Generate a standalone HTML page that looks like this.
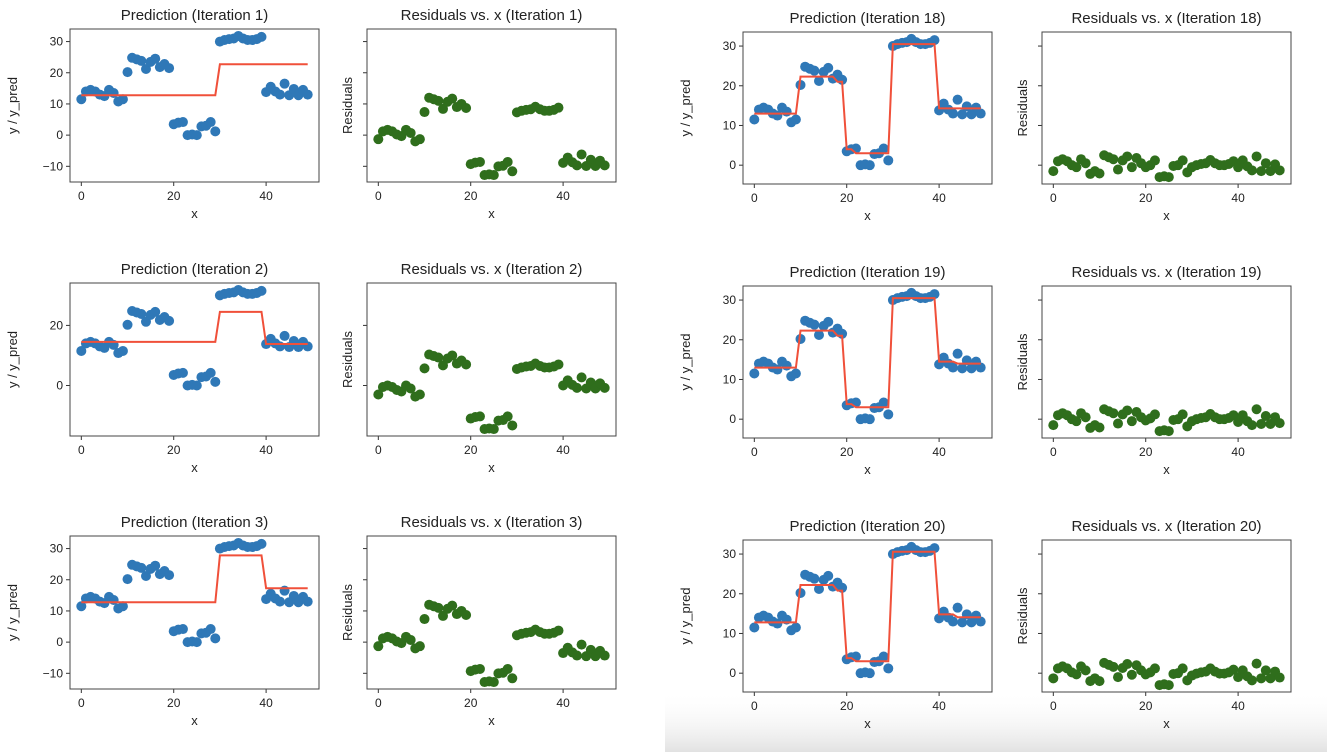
<!DOCTYPE html>
<html><head><meta charset="utf-8">
<style>
html,body{margin:0;padding:0;background:#fff;}
#wrap{position:relative;width:1327px;height:752px;overflow:hidden;background:#fff;}
svg text{font-family:"Liberation Sans","DejaVu Sans",sans-serif;fill:#222;}
</style></head>
<body>
<div id="wrap">
<svg id="fig" width="1327" height="752" xmlns="http://www.w3.org/2000/svg">
<defs><linearGradient id="fade" x1="0" y1="0" x2="0" y2="1"><stop offset="0" stop-color="#fff" stop-opacity="0"/><stop offset="1" stop-color="#e2e2e2"/></linearGradient></defs>
<rect x="665" y="690" width="662" height="62" fill="url(#fade)"/>
</svg>
</div>
<script>
// observed data y for x = 0..49
const yValues = [11.5,14,14.5,14,13,12.5,14.5,13.5,10.8,11.5,
  20.2,24.8,24.3,23.8,21.2,23.5,24.5,21.8,22.8,21.5,
  3.5,4,4.2,0,0.2,0,2.8,3,4.2,1.2,
  30,30.5,30.8,31,31.8,31,30.5,30.5,30.8,31.5,
  13.8,15.5,14,13,16.5,12.8,14.8,12.8,14.5,13];
// prediction step definitions per iteration: [startX, value]
const iterLabels = [1,2,3,18,19,20];
const predSteps1 = [[0,12.8],[30,22.7]];
const predSteps2 = [[0,14.5],[30,24.5],[40,13.8]];
const predSteps3 = [[0,12.8],[30,27.8],[40,17.3]];
const predSteps18 = [[0,13],[10,22.3],[18,21],[20,4],[22,3],[30,30.5],[40,14.3]];
const predSteps19 = [[0,13],[10,22.3],[18,21],[20,3.8],[22,3],[30,30.5],[40,14.5],[44,14]];
const predSteps20 = [[0,12.8],[10,22.2],[18,20.8],[20,3.8],[22,3],[30,30.6],[40,14.8],[44,14.1]];
const allSteps = [predSteps1,predSteps2,predSteps3,predSteps18,predSteps19,predSteps20];
const xTicks = [0,20,40];
const yTicksAll = [-10,0,10,20,30];
const yTickStep = [10,20,10,10,10,10];

const NS='http://www.w3.org/2000/svg';
const svg=document.getElementById('fig');
function mk(tag,attrs,parent){const e=document.createElementNS(NS,tag);for(const k in attrs)e.setAttribute(k,attrs[k]);(parent||svg).appendChild(e);return e;}
function predFrom(steps){const p=[];for(let x=0;x<yValues.length;x++){let v=steps[0][1];for(const s of steps){if(x>=s[0])v=s[1];}p.push(v);}return p;}

const layout=[
 [70,367,29,153],[70,367,283,153],[70,367,536,153],
 [743,1042,32,152],[743,1042,286,152],[743,1042,540,152]];
const W=249;

function panel(i,kind){
  const [pl,rl,top,h]=layout[i];
  const left=kind==='pred'?pl:rl;
  const pred=predFrom(allSteps[i]);
  const res=yValues.map((v,k)=>v-pred[k]);
  const vals=yValues.concat(pred,res);
  let mn=Math.min(...vals),mx=Math.max(...vals);const m=(mx-mn)*0.05;mn-=m;mx+=m;
  const xmin=-2.45,xmax=51.45;
  const sx=v=>left+(v-xmin)/(xmax-xmin)*W;
  const sy=v=>top+h-(v-mn)/(mx-mn)*h;
  const g=mk('g',{});
  
  
  const t=mk('text',{x:left+W/2,y:top-9,'text-anchor':'middle','font-size':'15'},g);
  t.textContent=kind==='pred'?`Prediction (Iteration ${iterLabels[i]})`:`Residuals vs. x (Iteration ${iterLabels[i]})`;
  
  
  for(const xt of xTicks){
    mk('line',{x1:sx(xt),x2:sx(xt),y1:top+h,y2:top+h+4,stroke:'#333','stroke-width':1},g);
    const tl=mk('text',{x:sx(xt),y:top+h+18,'text-anchor':'middle','font-size':'12'},g);tl.textContent=xt;
    
    
  }
  const step=yTickStep[i];
  for(const yt of yTicksAll){
    if(yt<mn||yt>mx)continue;
    if(yt%step!==0)continue;
    mk('line',{x1:left-4,x2:left,y1:sy(yt),y2:sy(yt),stroke:'#333','stroke-width':1},g);
    if(kind==='pred'){const tl=mk('text',{x:left-7,y:sy(yt)+4,'text-anchor':'end','font-size':'12'},g);tl.textContent=yt<0?'\u2212'+(-yt):yt;
      
      }
  }
  const xl=mk('text',{x:left+W/2,y:top+h+36,'text-anchor':'middle','font-size':'13'},g);xl.textContent='x';
  
  
  const yx=kind==='pred'?left-53:left-15;
  const yl=mk('text',{x:yx,y:top+h/2,'text-anchor':'middle','font-size':'13',transform:`rotate(-90 ${yx} ${top+h/2})`},g);
  yl.textContent=kind==='pred'?'y / y_pred':'Residuals';
  
  
  if(kind==='pred'){
    yValues.forEach((v,k)=>{const c=mk('circle',{cx:sx(k),cy:sy(v),r:5,fill:'#2f78b7'},g);
      
      });
    const d=pred.map((v,k)=>(k?'L':'M')+sx(k).toFixed(1)+' '+sy(v).toFixed(1)).join(' ');
    const p=mk('path',{d:d,fill:'none',stroke:'#f0503a','stroke-width':2},g);
    
    
  } else {
    res.forEach((v,k)=>{const c=mk('circle',{cx:sx(k),cy:sy(v),r:5,fill:'#2f6e1c'},g);
      
      });
  }
  const fr=mk('rect',{x:left,y:top,width:W,height:h,fill:'none',stroke:'#444','stroke-width':1},g);
  
  
}
for(let i=0;i<6;i++){panel(i,'pred');panel(i,'res');}
</script>
</body></html>
